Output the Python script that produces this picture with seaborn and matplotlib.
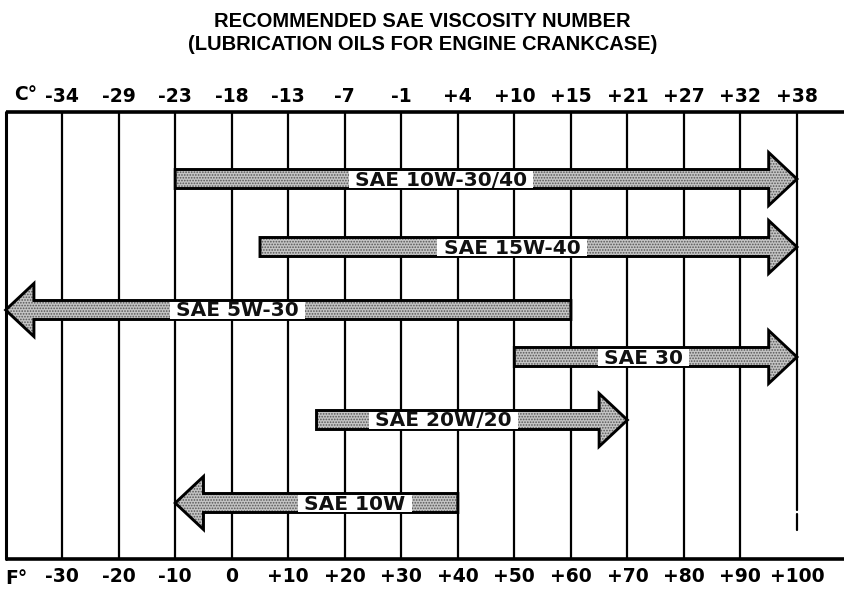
import matplotlib
matplotlib.use("Agg")
import matplotlib.pyplot as plt
import seaborn as sns
from matplotlib.patches import FancyArrow, Rectangle

# Data
fahrenheit_ticks = [-30, -20, -10, 0, 10, 20, 30, 40, 50, 60, 70, 80, 90, 100]
fahrenheit_labels = ["-30", "-20", "-10", "0", "+10", "+20", "+30", "+40",
                     "+50", "+60", "+70", "+80", "+90", "+100"]
celsius_labels = ["-34", "-29", "-23", "-18", "-13", "-7", "-1", "+4",
                  "+10", "+15", "+21", "+27", "+32", "+38"]

grades = ["SAE 10W-30/40", "SAE 15W-40", "SAE 5W-30", "SAE 30", "SAE 20W/20", "SAE 10W"]
range_low = [-10, 5, -40, 50, 15, -10]
range_high = [100, 100, 60, 100, 70, 40]
points_to = ["right", "right", "left", "right", "right", "left"]

# Layout (box is drawn in pixel-like units vertically, deg F horizontally)
row_y = [67, 135, 198, 245, 308, 391]
label_x = [37, 49.6, 1, 72.8, 37.4, 21.8]
box_h = 447

sns.set_theme(style="white", rc={"text.color": "black", "xtick.color": "black"})
plt.rcParams["font.family"] = ["DejaVu Sans"]
plt.rcParams["hatch.linewidth"] = 0.8

fig = plt.figure(figsize=(8.45, 5.9), dpi=100)
ax = fig.add_axes([0, 31 / 590, 1, box_h / 590])
ax.set_xlim(-41, 108.5)
ax.set_ylim(box_h, 0)
sns.despine(ax=ax, left=True, bottom=True)

# frame and grid lines
ax.plot([-40, 108.5], [0, 0], color="black", lw=2.6, clip_on=False, solid_capstyle="butt")
ax.plot([-40, 108.5], [box_h, box_h], color="black", lw=2.6, clip_on=False, solid_capstyle="butt")
ax.plot([-40, -40], [0, box_h], color="black", lw=2.2, clip_on=False)
for f in fahrenheit_ticks[:-1]:
    ax.plot([f, f], [0, box_h], color="black", lw=1.6, zorder=1)
ax.plot([100, 100], [0, 398], color="black", lw=1.6, zorder=1)
ax.plot([100, 100], [402, 418], color="black", lw=1.6, zorder=1)

# arrows
for lo, hi, y, d in zip(range_low, range_high, row_y, points_to):
    start, end = (lo, hi) if d == "right" else (hi, lo)
    kw = dict(width=19, head_width=53, head_length=5.0, length_includes_head=True)
    ax.add_patch(FancyArrow(start, y, end - start, 0, facecolor="#c4c4c4",
                            edgecolor="#555555", linewidth=0, hatch="......",
                            zorder=2, **kw))
    ax.add_patch(FancyArrow(start, y, end - start, 0, facecolor="none",
                            edgecolor="black", linewidth=2.1, joinstyle="miter",
                            zorder=3, **kw))

texts = []
for name, x, y in zip(grades, label_x, row_y):
    t = ax.text(x, y + 1, name, ha="center", va="center", fontsize=14.5,
                fontweight="bold", color="#111111", zorder=5)
    texts.append(t)

fig.canvas.draw()
renderer = fig.canvas.get_renderer()
inv = ax.transData.inverted()
for t, y in zip(texts, row_y):
    bb = t.get_window_extent(renderer).transformed(inv)
    x0, x1 = min(bb.x0, bb.x1), max(bb.x0, bb.x1)
    ax.add_patch(Rectangle((x0 - 1.1, y - 8.5), (x1 - x0) + 2.2, 17,
                           facecolor="white", edgecolor="none", zorder=4))

# bottom (F) and top (C) scales
ax.set_xticks(fahrenheit_ticks, labels=fahrenheit_labels)
ax.tick_params(axis="x", length=0, pad=6, labelsize=13.5, labelcolor="black")
for lab in ax.get_xticklabels():
    lab.set_fontweight("bold")
ax.set_yticks([])

top = ax.secondary_xaxis("top")
top.set_xticks(fahrenheit_ticks, labels=celsius_labels)
top.tick_params(axis="x", length=0, pad=4.5, labelsize=13.5, labelcolor="black")
top.spines["top"].set_visible(False)
for lab in top.get_xticklabels():
    lab.set_fontweight("bold")

fig.text(26 / 845, 1 - 95 / 590, "C°", ha="center", va="center",
         fontsize=13.5, fontweight="bold", color="black")
fig.text(16 / 845, 1 - 578 / 590, "F°", ha="center", va="center",
         fontsize=13.5, fontweight="bold", color="black")

fig.text(0.5, 1 - 27 / 590, "RECOMMENDED SAE VISCOSITY NUMBER", ha="center",
         va="baseline", fontsize=14.5, fontweight="bold", color="black",
         family=["Liberation Sans"])
fig.text(0.5, 1 - 50 / 590, "(LUBRICATION OILS FOR ENGINE CRANKCASE)", ha="center",
         va="baseline", fontsize=14.5, fontweight="bold", color="black",
         family=["Liberation Sans"])

fig.savefig("out.png", dpi=100)
